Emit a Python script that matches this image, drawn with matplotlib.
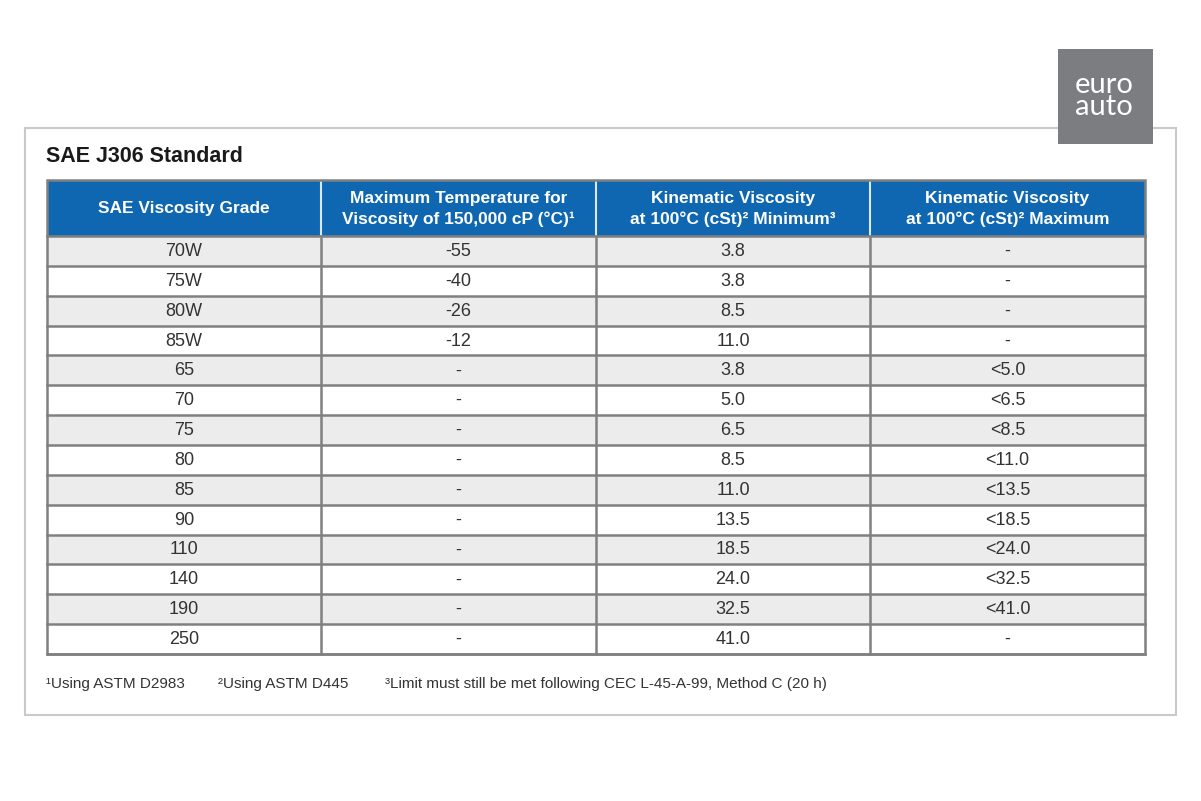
import matplotlib
matplotlib.use("Agg")
import matplotlib.pyplot as plt
from matplotlib.patches import Rectangle

title = "SAE J306 Standard"
headers = [
    "SAE Viscosity Grade",
    "Maximum Temperature for\nViscosity of 150,000 cP (°C)¹",
    "Kinematic Viscosity\nat 100°C (cSt)² Minimum³",
    "Kinematic Viscosity\nat 100°C (cSt)² Maximum",
]
grades = ["70W", "75W", "80W", "85W", "65", "70", "75", "80", "85", "90", "110", "140", "190", "250"]
max_temp = ["-55", "-40", "-26", "-12", "-", "-", "-", "-", "-", "-", "-", "-", "-", "-"]
kv_min = ["3.8", "3.8", "8.5", "11.0", "3.8", "5.0", "6.5", "8.5", "11.0", "13.5", "18.5", "24.0", "32.5", "41.0"]
kv_max = ["-", "-", "-", "-", "<5.0", "<6.5", "<8.5", "<11.0", "<13.5", "<18.5", "<24.0", "<32.5", "<41.0", "-"]
footnotes = ["¹Using ASTM D2983", "²Using ASTM D445", "³Limit must still be met following CEC L-45-A-99, Method C (20 h)"]

W, H = 1201, 801
fig = plt.figure(figsize=(W / 100, H / 100), dpi=100)
ax = fig.add_axes([0, 0, 1, 1])
ax.set_xlim(0, W)
ax.set_ylim(H, 0)
ax.axis("off")

body_font = ["Liberation Sans Narrow", "Liberation Sans", "DejaVu Sans"]
head_font = ["Liberation Sans", "DejaVu Sans"]

# outer frame
ax.add_patch(Rectangle((25, 128), 1151, 587, facecolor="white", edgecolor="#c9c9c9", lw=1.5, zorder=1))

# logo
ax.add_patch(Rectangle((1058, 49), 95, 95, facecolor="#7b7d80", edgecolor="none", zorder=3))
ax.text(1104, 96, "euro\nauto", color="white", fontsize=21, family=["Lato", "DejaVu Sans"], ha="center",
        va="center", linespacing=0.78, zorder=4)

ax.text(46, 156, title, fontsize=15.5, fontweight="bold", family=head_font, color="#1a1a1a",
        ha="left", va="center", zorder=4)

col_x = [47, 321, 596, 870, 1145]
head_top, head_bot = 180, 236
row_h = (654 - head_bot) / len(grades)
blue = "#0f67b1"

# header
ax.add_patch(Rectangle((col_x[0], head_top), col_x[-1] - col_x[0], head_bot - head_top,
                       facecolor=blue, edgecolor="none", zorder=2))
for i, htxt in enumerate(headers):
    cx = (col_x[i] + col_x[i + 1]) / 2
    ax.text(cx, (head_top + head_bot) / 2 + 1, htxt, color="white", fontsize=12.5, fontweight="bold",
            family=head_font, ha="center", va="center", linespacing=1.45, zorder=4)
for x in col_x[1:-1]:
    ax.plot([x, x], [head_top, head_bot], color="#dbe8f5", lw=1.5, zorder=3)

# body rows
columns = [grades, max_temp, kv_min, kv_max]
for r in range(len(grades)):
    y0 = head_bot + r * row_h
    fc = "#ececec" if r % 2 == 0 else "white"
    ax.add_patch(Rectangle((col_x[0], y0), col_x[-1] - col_x[0], row_h, facecolor=fc,
                           edgecolor="none", zorder=2))
    for c, col in enumerate(columns):
        cx = (col_x[c] + col_x[c + 1]) / 2
        ax.text(cx, y0 + row_h / 2 + 0.5, col[r], fontsize=13, family=body_font, color="#333333",
                ha="center", va="center", zorder=4)

grid_c = "#808080"
grid_lw = 1.8
table_bot = head_bot + len(grades) * row_h
for r in range(len(grades) + 1):
    y = head_bot + r * row_h
    ax.plot([col_x[0], col_x[-1]], [y, y], color=grid_c, lw=grid_lw, zorder=3)
for x in col_x[1:-1]:
    ax.plot([x, x], [head_bot, table_bot], color=grid_c, lw=grid_lw, zorder=3)
ax.add_patch(Rectangle((col_x[0], head_top), col_x[-1] - col_x[0], table_bot - head_top,
                       facecolor="none", edgecolor=grid_c, lw=grid_lw, zorder=3))

# footnotes
fx = [46, 218, 385]
for x, t in zip(fx, footnotes):
    ax.text(x, 684, t, fontsize=11, family=body_font, color="#333333", ha="left", va="center", zorder=4)

fig.savefig("out.png", dpi=100)
